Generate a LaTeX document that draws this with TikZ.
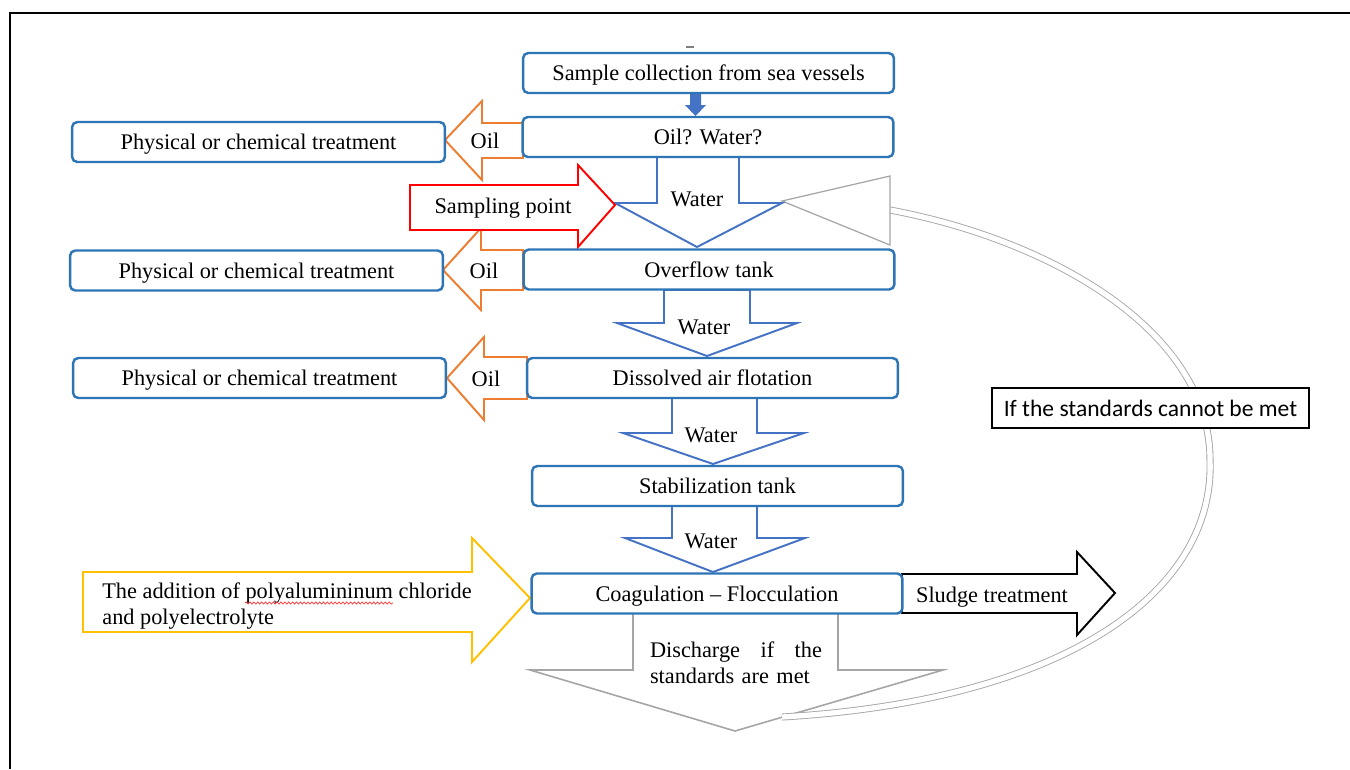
\documentclass[tikz,border=0pt]{standalone}
\usepackage{fontspec}
\setmainfont{Liberation Serif}
\newfontfamily\calibrifont{Carlito}
\usetikzlibrary{decorations.pathmorphing}

\definecolor{boxblue}{RGB}{46,117,182}
\definecolor{flowblue}{RGB}{68,114,196}
\definecolor{oilorange}{RGB}{237,125,49}
\definecolor{dosyellow}{RGB}{255,192,0}
\definecolor{outgray}{RGB}{165,165,165}

\tikzset{
  stagebox/.style={draw=boxblue, line width=1.4pt, rounded corners=3pt, fill=white,
    minimum width=7.42cm, minimum height=0.8cm, inner sep=0pt, text height=11pt, text depth=2pt},
  treatbox/.style={stagebox, minimum width=7.46cm},
  waterflow/.style={draw=flowblue, line width=1.1pt, fill=white},
  oilflow/.style={draw=oilorange, line width=1.1pt, fill=white},
  lbl/.style={inner sep=0pt},
}

\begin{document}
\begin{tikzpicture}[x=0.02cm, y=-0.02cm, font=\fontsize{12.7}{15}\selectfont]
\useasboundingbox (0,0) rectangle (1350,769);
% frame
\draw[line width=1.2pt] (10,769) -- (10,13) -- (1350,13);
\draw[gray, line width=0.6pt] (686,47) -- (694,47);

% return loop
\coordinate (retstart) at (890,210);
\coordinate (retend) at (782,717);
\draw[outgray, line width=0.9pt, fill=white] (633,613) -- (633,670) -- (530,670) -- (735,731)
  -- (943,670) -- (838,670) -- (838,613) -- cycle;
\draw[outgray, line width=0.5pt, double=white, double distance=3pt] (retstart)
  .. controls (1050,240) and (1210,330) .. (1210,460)
  .. controls (1215,590) and (1070,700) .. (retend);
\draw[outgray, line width=0.7pt, fill=white] (782,201) -- (890,176) -- (890,245) -- cycle;
\node[lbl, text width=3.44cm] (discharge) at (736,663)
  {\noindent Discharge\hfill if\hfill the\\standards are met};

% small feed arrow
\fill[flowblue] (690,93) -- (690,105) -- (685,105) -- (695.5,116) -- (706,105) -- (701,105) -- (701,93) -- cycle;

% water arrows
\draw[waterflow] (657,157) -- (657,203) -- (615,203) -- (697,247) -- (782,203) -- (739,203) -- (739,157) -- cycle;
\draw[waterflow] (664,290) -- (664,323) -- (617,323) -- (707,356) -- (797,323) -- (750,323) -- (750,290) -- cycle;
\draw[waterflow] (672,398) -- (672,433) -- (623,433) -- (713,464) -- (804,433) -- (757,433) -- (757,398) -- cycle;
\draw[waterflow] (672,505) -- (672,538) -- (625,538) -- (713,572) -- (805,538) -- (757,538) -- (757,505) -- cycle;
\node[lbl] (water1) at (697,199) {Water};
\node[lbl] (water2) at (704,327) {Water};
\node[lbl] (water3) at (711,435) {Water};
\node[lbl] (water4) at (711,541) {Water};

% oil arrows
\draw[oilflow] (523,123) -- (482,123) -- (482,101) -- (445,140) -- (482,180) -- (482,158) -- (523,158) -- cycle;
\draw[oilflow] (523,250) -- (481,250) -- (481,228) -- (443,270) -- (481,310) -- (481,290) -- (523,290) -- cycle;
\draw[oilflow] (527,357) -- (484,357) -- (484,337) -- (447,378) -- (484,420) -- (484,399) -- (527,399) -- cycle;
\node[lbl] (oil1) at (485,141) {Oil};
\node[lbl] (oil2) at (484,271) {Oil};
\node[lbl] (oil3) at (486,379) {Oil};

% sampling point
\draw[red, line width=1.1pt, fill=white] (410,185) -- (578,185) -- (578,165) -- (615,205) -- (578,247) -- (578,230) -- (410,230) -- cycle;
\node[lbl] (sampling) at (503,208) {Sampling point};

% dosing
\draw[dosyellow, line width=1.1pt, fill=white] (83,572) -- (472,572) -- (472,538) -- (530,598) -- (472,662) -- (472,632) -- (83,632) -- cycle;
\node[lbl, anchor=west, align=left, font=\fontsize{12.7}{14.5}\selectfont] (dosing) at (102,606)
  {The addition of polyalumininum chloride\\and polyelectrolyte};
\draw[red!80, line width=0.4pt, decorate, decoration={snake, amplitude=0.6pt, segment length=2.2pt}] (245,603) -- (393,603);

% sludge
\draw[black, line width=1.1pt, fill=white] (902,574) -- (1077,574) -- (1077,552) -- (1115,593) -- (1077,635) -- (1077,613) -- (902,613) -- cycle;
\node[lbl] (sludge) at (992,597) {Sludge treatment};

% process stages
\node[stagebox] (sample) at (708.5,73) {Sample collection from sea vessels};
\node[stagebox] (oilq) at (708,137) {Oil? Water?};
\node[stagebox] (overflow) at (709,269.5) {Overflow tank};
\node[stagebox] (flotation) at (712.5,378) {Dissolved air flotation};
\node[stagebox] (stabil) at (717.5,486) {Stabilization tank};
\node[stagebox] (coag) at (717,593.5) {Coagulation -- Flocculation};

\node[treatbox] (phys1) at (258.5,142) {Physical or chemical treatment};
\node[treatbox] (phys2) at (256.5,270.5) {Physical or chemical treatment};
\node[treatbox] (phys3) at (259.5,378) {Physical or chemical treatment};

\node[draw=black, line width=1.2pt, fill=white, minimum width=6.34cm, minimum height=0.8cm,
  font=\calibrifont\fontsize{13.4}{16}\selectfont] (nomet) at (1150.5,408) {If the standards cannot be met};
\end{tikzpicture}
\end{document}
